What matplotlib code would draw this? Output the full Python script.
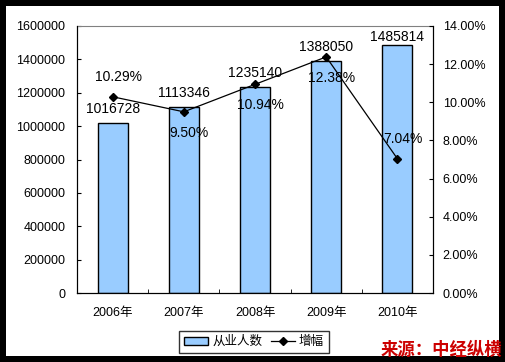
import matplotlib
matplotlib.use("Agg")
import matplotlib.pyplot as plt
from matplotlib.patches import Rectangle
from matplotlib.lines import Line2D
from matplotlib.ticker import FuncFormatter

plt.rcParams['font.family'] = ['Liberation Sans', 'Noto Sans CJK SC']

years = ['2006年', '2007年', '2008年', '2009年', '2010年']
workers = [1016728, 1113346, 1235140, 1388050, 1485814]
growth = [10.29, 9.50, 10.94, 12.38, 7.04]

fig = plt.figure(figsize=(5.05, 3.62), dpi=100, facecolor='black')
# white inner frame
fig.patches.append(Rectangle((6 / 505, 6 / 362), 493 / 505, 350 / 362,
                             transform=fig.transFigure, facecolor='white',
                             edgecolor='none', zorder=-10))

ax = fig.add_axes([77 / 505, 69 / 362, 356 / 505, 267 / 362])
ax.set_facecolor('white')
x = list(range(len(years)))
ax.bar(x, workers, width=0.42, color='#99CCFF', edgecolor='black', linewidth=1, zorder=2)
ax.set_xlim(-0.5, len(years) - 0.5)
ax.set_ylim(0, 1600000)
ax.set_yticks(range(0, 1600001, 200000))
ax.yaxis.set_major_formatter(FuncFormatter(lambda v, p: f"{int(v)}"))
ax.set_xticks(x)
ax.set_xticklabels(years)
ax.set_xticks([i + 0.5 for i in x[:-1]], minor=True)
ax.tick_params(axis='x', which='major', length=0, pad=10, labelsize=9)
ax.tick_params(axis='x', which='minor', direction='in', length=3)
ax.tick_params(axis='y', direction='in', length=3, pad=8.5, labelsize=9)
for s in ['left', 'bottom', 'right']:
    ax.spines[s].set_color('black')
ax.spines['top'].set_color('#808080')

for i, v in enumerate(workers):
    dy = 5 if i < len(workers) - 1 else 1
    ax.annotate(str(v), (i, v), xytext=(0, dy), textcoords='offset points',
                ha='center', va='bottom', fontsize=10)

ax2 = ax.twinx()
ax2.plot(x, [g / 100 for g in growth], color='black', linewidth=0.9,
         marker='D', markersize=4.5, zorder=3)
ax2.set_ylim(0, 0.14)
ax2.set_yticks([i / 100 for i in range(0, 15, 2)])
ax2.yaxis.set_major_formatter(FuncFormatter(lambda v, p: f"{v * 100:.2f}%"))
ax2.tick_params(axis='y', direction='in', length=3, pad=7, labelsize=9)
ax2.spines['top'].set_visible(False)
ax2.spines['right'].set_color('black')

for i, g in enumerate(growth):
    above = i == 0 or i == len(growth) - 1
    dy = 14 if above else -15
    ax2.annotate(f"{g:.2f}%", (i, g / 100), xytext=(4, dy), textcoords='offset points',
                 ha='center', va='center', fontsize=10)

handles = [Rectangle((0, 0), 1, 1, facecolor='#99CCFF', edgecolor='black', linewidth=1),
           Line2D([], [], color='black', linewidth=0.9, marker='D', markersize=4.5)]
leg = fig.legend(handles, ['从业人数', '增幅'], loc='center', bbox_to_anchor=(254 / 505, 20 / 362),
                 ncol=2, fontsize=9, frameon=True, fancybox=False, edgecolor='black',
                 handlelength=1.9, handleheight=0.6, columnspacing=0.7, handletextpad=0.35,
                 borderpad=0.4, borderaxespad=0)
leg.get_frame().set_linewidth(1)

fig.text(441 / 505, 12 / 362, '来源：中经纵横', color='#CC0000', fontsize=12.5,
         fontweight='bold', ha='center', va='center', family=['Noto Sans CJK SC'])

fig.savefig('out.png', dpi=100, facecolor='black')
